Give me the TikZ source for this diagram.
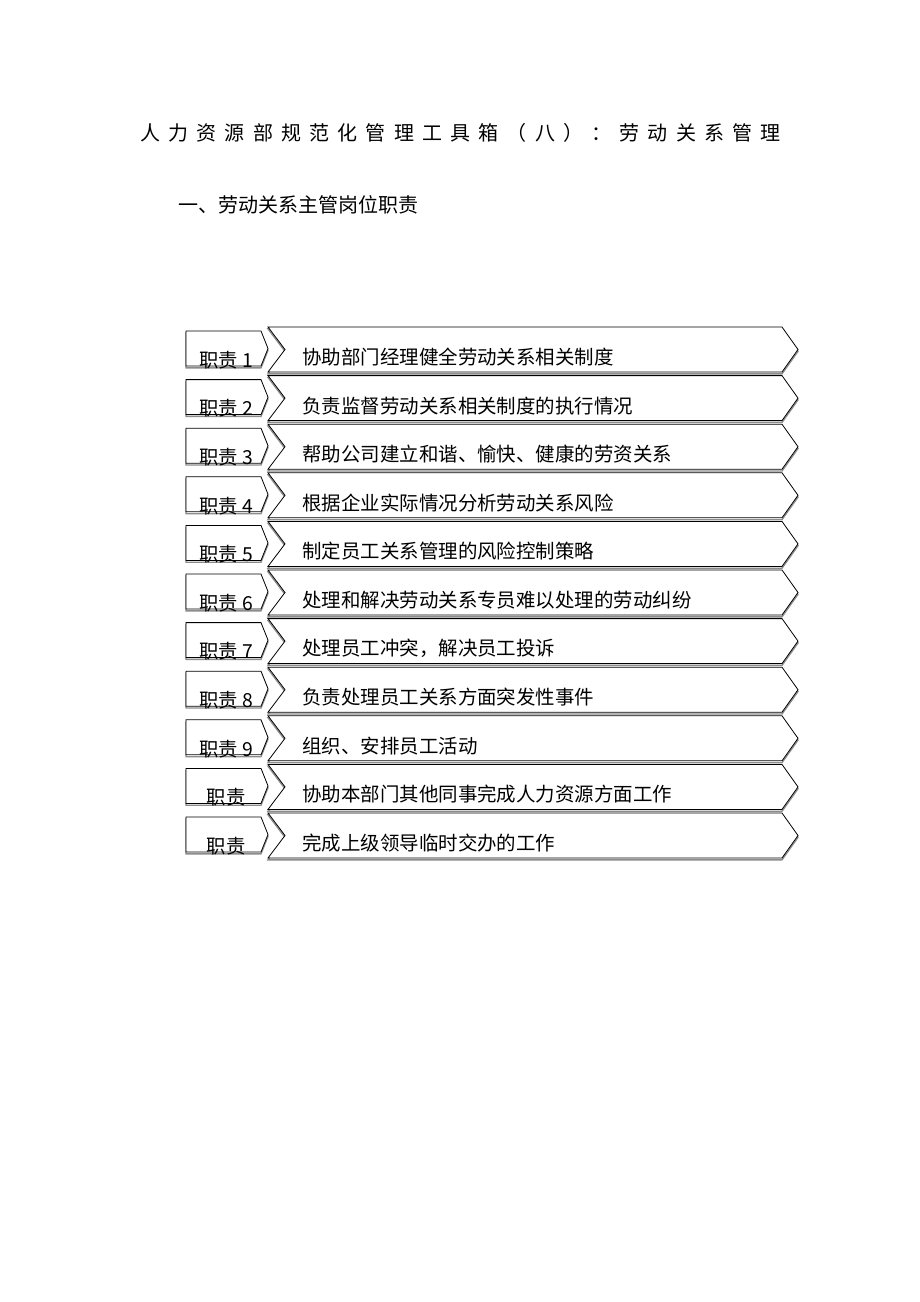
\documentclass[tikz,border=0pt]{standalone}
\usepackage{fontspec}
\setmainfont{Noto Sans CJK SC}
\tikzset{
    tagbox/.style={draw=black, line width=0.6pt, fill=white,
        preaction={draw=black!45, line width=1pt, transform canvas={yshift=-1.4pt}}},
    dutybox/.style={draw=black, line width=0.6pt, fill=white,
        preaction={draw=black!45, line width=1pt, transform canvas={yshift=-1.4pt}}},
    tagtext/.style={font=\fontsize{14.5pt}{15pt}\selectfont, inner sep=0pt},
    dutytext/.style={anchor=west, font=\fontsize{14.6pt}{16pt}\selectfont, inner sep=0pt}
}
\begin{document}
\begin{tikzpicture}[x=0.75pt, y=-0.75pt]
                \useasboundingbox[fill=white] (0, 0) rectangle (920, 1302);

                \node[anchor=west, inner sep=0pt, font=\fontsize{15pt}{16pt}\selectfont\addfontfeatures{LetterSpace=41}] (title) at (140, 133) {人力资源部规范化管理工具箱（八）：劳动关系管理};

                \node[anchor=west, inner sep=0pt, font=\fontsize{15pt}{16pt}\selectfont] (head) at (178, 205) {一、劳动关系主管岗位职责};

                % row 1
                \draw[dutybox, shift={(0, 327)}] (268, 0) -- (782, 0) -- (798, 22.5) -- (782, 45) -- (268, 45) -- (285, 22.5) -- cycle;
                \draw[tagbox, shift={(0, 327)}] (186, 4) -- (261, 4) -- (268, 21.5) -- (261, 39) -- (186, 39) -- cycle;
                \node[tagtext] (tag1) at (226, 360) {职责 1};
                \node[dutytext] (duty1) at (302, 357) {协助部门经理健全劳动关系相关制度};

                % row 2
                \draw[dutybox, shift={(0, 375.6)}] (268, 0) -- (782, 0) -- (798, 22.5) -- (782, 45) -- (268, 45) -- (285, 22.5) -- cycle;
                \draw[tagbox, shift={(0, 375.6)}] (186, 4) -- (261, 4) -- (268, 21.5) -- (261, 39) -- (186, 39) -- cycle;
                \node[tagtext] (tag2) at (226, 408.6) {职责 2};
                \node[dutytext] (duty2) at (302, 405.6) {负责监督劳动关系相关制度的执行情况};

                % row 3
                \draw[dutybox, shift={(0, 424.2)}] (268, 0) -- (782, 0) -- (798, 22.5) -- (782, 45) -- (268, 45) -- (285, 22.5) -- cycle;
                \draw[tagbox, shift={(0, 424.2)}] (186, 4) -- (261, 4) -- (268, 21.5) -- (261, 39) -- (186, 39) -- cycle;
                \node[tagtext] (tag3) at (226, 457.2) {职责 3};
                \node[dutytext] (duty3) at (302, 454.2) {帮助公司建立和谐、愉快、健康的劳资关系};

                % row 4
                \draw[dutybox, shift={(0, 472.8)}] (268, 0) -- (782, 0) -- (798, 22.5) -- (782, 45) -- (268, 45) -- (285, 22.5) -- cycle;
                \draw[tagbox, shift={(0, 472.8)}] (186, 4) -- (261, 4) -- (268, 21.5) -- (261, 39) -- (186, 39) -- cycle;
                \node[tagtext] (tag4) at (226, 505.8) {职责 4};
                \node[dutytext] (duty4) at (302, 502.8) {根据企业实际情况分析劳动关系风险};

                % row 5
                \draw[dutybox, shift={(0, 521.4)}] (268, 0) -- (782, 0) -- (798, 22.5) -- (782, 45) -- (268, 45) -- (285, 22.5) -- cycle;
                \draw[tagbox, shift={(0, 521.4)}] (186, 4) -- (261, 4) -- (268, 21.5) -- (261, 39) -- (186, 39) -- cycle;
                \node[tagtext] (tag5) at (226, 554.4) {职责 5};
                \node[dutytext] (duty5) at (302, 551.4) {制定员工关系管理的风险控制策略};

                % row 6
                \draw[dutybox, shift={(0, 570)}] (268, 0) -- (782, 0) -- (798, 22.5) -- (782, 45) -- (268, 45) -- (285, 22.5) -- cycle;
                \draw[tagbox, shift={(0, 570)}] (186, 4) -- (261, 4) -- (268, 21.5) -- (261, 39) -- (186, 39) -- cycle;
                \node[tagtext] (tag6) at (226, 603) {职责 6};
                \node[dutytext] (duty6) at (302, 600) {处理和解决劳动关系专员难以处理的劳动纠纷};

                % row 7
                \draw[dutybox, shift={(0, 618.6)}] (268, 0) -- (782, 0) -- (798, 22.5) -- (782, 45) -- (268, 45) -- (285, 22.5) -- cycle;
                \draw[tagbox, shift={(0, 618.6)}] (186, 4) -- (261, 4) -- (268, 21.5) -- (261, 39) -- (186, 39) -- cycle;
                \node[tagtext] (tag7) at (226, 651.6) {职责 7};
                \node[dutytext] (duty7) at (302, 648.6) {处理员工冲突，解决员工投诉};

                % row 8
                \draw[dutybox, shift={(0, 667.2)}] (268, 0) -- (782, 0) -- (798, 22.5) -- (782, 45) -- (268, 45) -- (285, 22.5) -- cycle;
                \draw[tagbox, shift={(0, 667.2)}] (186, 4) -- (261, 4) -- (268, 21.5) -- (261, 39) -- (186, 39) -- cycle;
                \node[tagtext] (tag8) at (226, 700.2) {职责 8};
                \node[dutytext] (duty8) at (302, 697.2) {负责处理员工关系方面突发性事件};

                % row 9
                \draw[dutybox, shift={(0, 715.8)}] (268, 0) -- (782, 0) -- (798, 22.5) -- (782, 45) -- (268, 45) -- (285, 22.5) -- cycle;
                \draw[tagbox, shift={(0, 715.8)}] (186, 4) -- (261, 4) -- (268, 21.5) -- (261, 39) -- (186, 39) -- cycle;
                \node[tagtext] (tag9) at (226, 748.8) {职责 9};
                \node[dutytext] (duty9) at (302, 745.8) {组织、安排员工活动};

                % row 10
                \draw[dutybox, shift={(0, 764.4)}] (268, 0) -- (782, 0) -- (798, 22.5) -- (782, 45) -- (268, 45) -- (285, 22.5) -- cycle;
                \draw[tagbox, shift={(0, 764.4)}] (186, 4) -- (261, 4) -- (268, 21.5) -- (261, 39) -- (186, 39) -- cycle;
                \node[tagtext] (tag10) at (226, 797.4) {职责};
                \node[dutytext] (duty10) at (302, 794.4) {协助本部门其他同事完成人力资源方面工作};

                % row 11
                \draw[dutybox, shift={(0, 813)}] (268, 0) -- (782, 0) -- (798, 22.5) -- (782, 45) -- (268, 45) -- (285, 22.5) -- cycle;
                \draw[tagbox, shift={(0, 813)}] (186, 4) -- (261, 4) -- (268, 21.5) -- (261, 39) -- (186, 39) -- cycle;
                \node[tagtext] (tag11) at (226, 846) {职责};
                \node[dutytext] (duty11) at (302, 843) {完成上级领导临时交办的工作};
            \end{tikzpicture}
\end{document}
